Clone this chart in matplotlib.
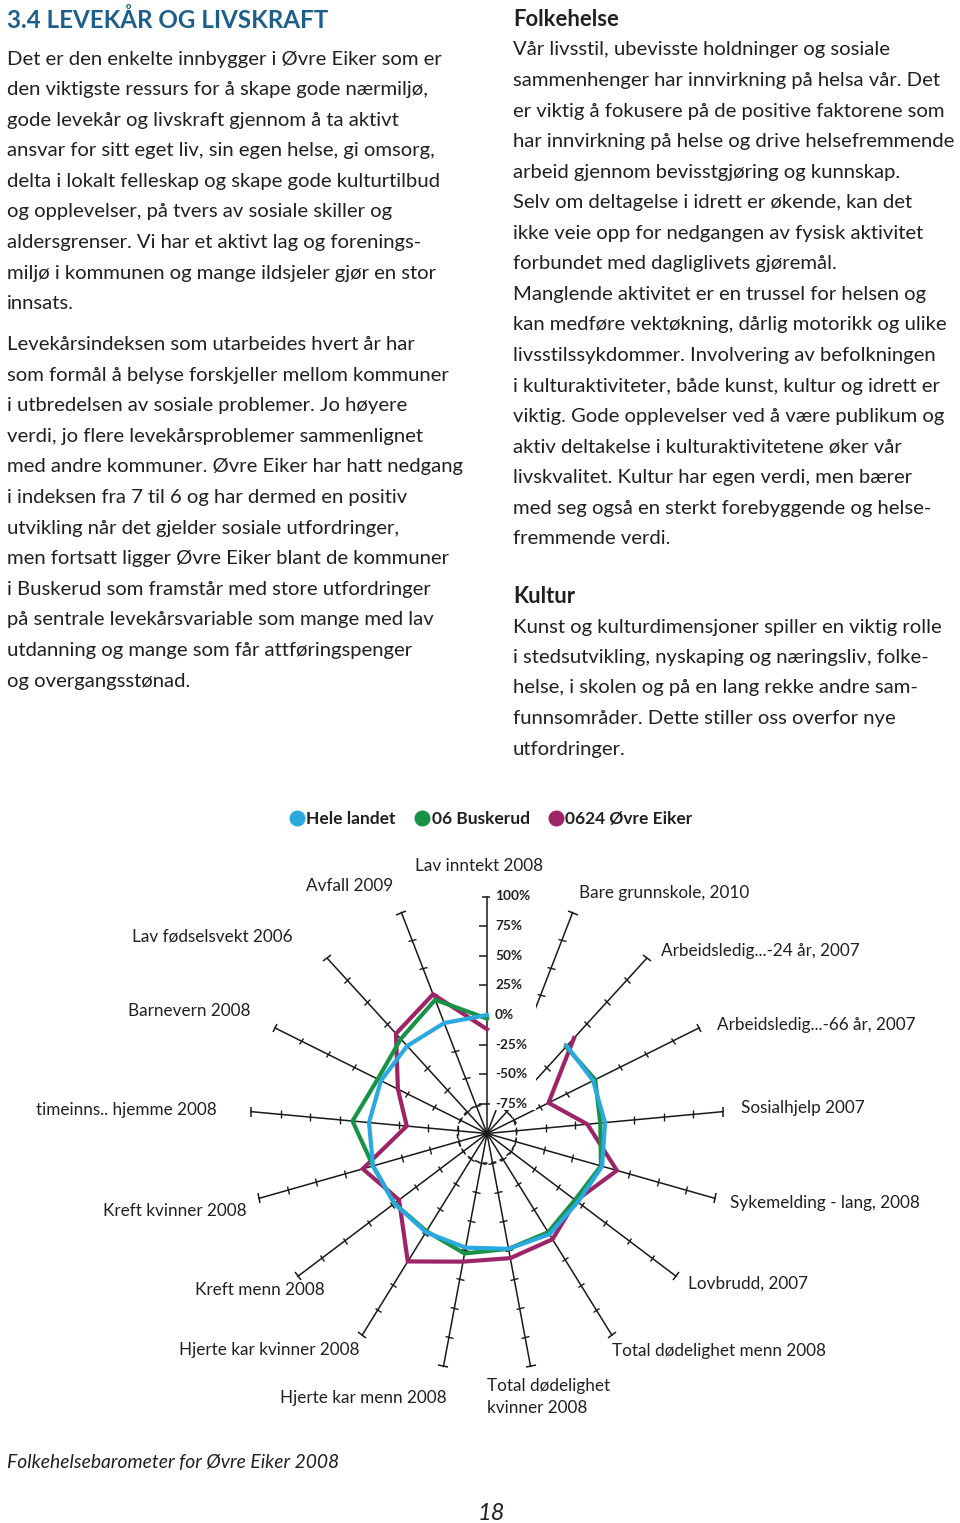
import numpy as np
import matplotlib.pyplot as plt
from matplotlib.markers import MarkerStyle
from matplotlib.transforms import Affine2D
from matplotlib.lines import Line2D
from matplotlib.patches import Rectangle
from matplotlib.path import Path

plt.rcParams['font.family'] = ['Lato', 'DejaVu Sans']

W, H = 960, 1523

# --- data -------------------------------------------------------------
categories = ['Lav inntekt 2008', 'Bare grunnskole, 2010', 'Arbeidsledig...-24 år, 2007',
              'Arbeidsledig...-66 år, 2007', 'Sosialhjelp 2007', 'Sykemelding - lang, 2008',
              'Lovbrudd, 2007', 'Total dødelighet menn 2008', 'Total dødelighet\nkvinner 2008',
              'Hjerte kar menn 2008', 'Hjerte kar kvinner 2008', 'Kreft menn 2008',
              'Kreft kvinner 2008', 'timeinns.. hjemme 2008', 'Barnevern 2008',
              'Lav fødselsvekt 2006', 'Avfall 2009']
hele_landet = [0, np.nan, 0, 0, 0, 1, -4, 0, -1, -2, -2, -2, 0, 0, 0, 0, 0]
buskerud = [-3, np.nan, -1, 2, -4, 0, -7, -2, -1, 3, -3, -2, 0, 14, 3, 8, 21]
ovre_eiker = [-12, np.nan, 9, -42, -15, 14, -6, 5, 7, 10, 27, -7, 9, -32, -16, 14, 26]
series_names = ['Hele landet', '06 Buskerud', '0624 Øvre Eiker']
scale_ticks = [100, 75, 50, 25, 0, -25, -50, -75]

colors = ['#2aa9e0', '#179247', '#9c2467']
txt = '#231f20'

# label placement on the page (pixels: left x, centre y)
label_pos = [(415, 866), (579, 893), (661, 951), (717, 1025), (741, 1108), (730, 1203),
             (688, 1284), (612, 1351), (487, 1397), (280, 1398), (179, 1350), (195, 1290),
             (103, 1211), (36, 1110), (128, 1011), (132, 936), (306, 886)]

left_col = [
    "Det er den enkelte innbygger i Øvre Eiker som er",
    "den viktigste ressurs for å skape gode nærmiljø,",
    "gode levekår og livskraft gjennom å ta aktivt",
    "ansvar for sitt eget liv, sin egen helse, gi omsorg,",
    "delta i lokalt felleskap og skape gode kulturtilbud",
    "og opplevelser, på tvers av sosiale skiller og",
    "aldersgrenser. Vi har et aktivt lag og forenings-",
    "miljø i kommunen og mange ildsjeler gjør en stor",
    "innsats.",
    None,
    "Levekårsindeksen som utarbeides hvert år har",
    "som formål å belyse forskjeller mellom kommuner",
    "i utbredelsen av sosiale problemer. Jo høyere",
    "verdi, jo flere levekårsproblemer sammenlignet",
    "med andre kommuner. Øvre Eiker har hatt nedgang",
    "i indeksen fra 7 til 6 og har dermed en positiv",
    "utvikling når det gjelder sosiale utfordringer,",
    "men fortsatt ligger Øvre Eiker blant de kommuner",
    "i Buskerud som framstår med store utfordringer",
    "på sentrale levekårsvariable som mange med lav",
    "utdanning og mange som får attføringspenger",
    "og overgangsstønad.",
]
right_col1 = [
    "Vår livsstil, ubevisste holdninger og sosiale",
    "sammenhenger har innvirkning på helsa vår. Det",
    "er viktig å fokusere på de positive faktorene som",
    "har innvirkning på helse og drive helsefremmende",
    "arbeid gjennom bevisstgjøring og kunnskap.",
    "Selv om deltagelse i idrett er økende, kan det",
    "ikke veie opp for nedgangen av fysisk aktivitet",
    "forbundet med dagliglivets gjøremål.",
    "Manglende aktivitet er en trussel for helsen og",
    "kan medføre vektøkning, dårlig motorikk og ulike",
    "livsstilssykdommer. Involvering av befolkningen",
    "i kulturaktiviteter, både kunst, kultur og idrett er",
    "viktig. Gode opplevelser ved å være publikum og",
    "aktiv deltakelse i kulturaktivitetene øker vår",
    "livskvalitet. Kultur har egen verdi, men bærer",
    "med seg også en sterkt forebyggende og helse-",
    "fremmende verdi.",
]
right_col2 = [
    "Kunst og kulturdimensjoner spiller en viktig rolle",
    "i stedsutvikling, nyskaping og næringsliv, folke-",
    "helse, i skolen og på en lang rekke andre sam-",
    "funnsområder. Dette stiller oss overfor nye",
    "utfordringer.",
]


def fx(x):
    return x / W


def fy(y):
    return 1 - y / H


fig = plt.figure(figsize=(W / 100, H / 100), dpi=100)
fig.patch.set_facecolor('white')

# --- page text ----------------------------------------------------------
body_fs = 14.6
fig.text(fx(7), fy(20), "3.4 LEVEKÅR OG LIVSKRAFT", fontsize=17.4, fontweight='bold',
         color='#1d5f8a', ha='left', va='center')
y = 59
for line in left_col:
    if line is None:
        y += 10
        continue
    fig.text(fx(7), fy(y), line, fontsize=body_fs, color=txt, ha='left', va='center')
    y += 30.6

fig.text(fx(513), fy(19), "Folkehelse", fontsize=15.8, fontweight='bold', color=txt,
         ha='left', va='center')
y = 50
for line in right_col1:
    fig.text(fx(513), fy(y), line, fontsize=body_fs, color=txt, ha='left', va='center')
    y += 30.55
fig.text(fx(513), fy(596), "Kultur", fontsize=15.8, fontweight='bold', color=txt,
         ha='left', va='center')
y = 627
for line in right_col2:
    fig.text(fx(513), fy(y), line, fontsize=body_fs, color=txt, ha='left', va='center')
    y += 30.5

fig.text(fx(7), fy(1463), "Folkehelsebarometer for Øvre Eiker 2008", fontsize=13.9,
         style='italic', color=txt, ha='left', va='center')
fig.text(fx(491), fy(1514), "18", fontsize=17, style='italic', color=txt,
         ha='center', va='center')

# --- radar --------------------------------------------------------------
R = 237
cx, cy = 487, 1133.5
ax = fig.add_axes([fx(cx - R), fy(cy + R), 2 * R / W, 2 * R / H], projection='polar')
ax.set_theta_zero_location('N')
ax.set_theta_direction(-1)
ax.set_ylim(-100, 100)
ax.grid(False)
ax.set_xticks([])
ax.set_yticks([])
ax.spines['polar'].set_visible(False)
ax.patch.set_alpha(0)

n = len(categories)
theta = np.arange(n) * 2 * np.pi / n

for i, t in enumerate(theta):
    deg = np.degrees(t)
    ax.plot([t, t], [-100, 100], color='#1a1a1a', lw=1.1, zorder=1, clip_on=False)
    if i == 0:
        mk = MarkerStyle(Path([(-1, 0), (0, 0)]))
        ax.plot([t] * 7, scale_ticks[1:], ls='none', marker=mk, ms=12,
                mec='#1a1a1a', mew=1.1, zorder=1, clip_on=False)
    else:
        mk = MarkerStyle('_', transform=Affine2D().rotate_deg(-deg))
        ax.plot([t] * 7, scale_ticks[1:], ls='none', marker=mk, ms=5.5,
                mec='#1a1a1a', mew=1.0, zorder=1, clip_on=False)
    cap = MarkerStyle('_', transform=Affine2D().rotate_deg(-deg))
    ax.plot([t], [100], ls='none', marker=cap, ms=7, mec='#1a1a1a', mew=1.1,
            zorder=1, clip_on=False)

ring = np.linspace(0, 2 * np.pi, 181)
ax.plot(ring, np.full_like(ring, -75), color='#1a1a1a', lw=1.1, ls=(0, (3, 2.5)), zorder=1)

# white panel behind the scale labels (hides the spokes there, as in the original)
ax.add_patch(Rectangle((fx(490), fy(1110)), 46 / W, 226 / H, transform=fig.transFigure,
                       fc='white', ec='none', zorder=2, clip_on=False))
for v in scale_ticks:
    ax.annotate(f'{v}%', xy=(0, v), xytext=(8, 0), textcoords='offset pixels',
                ha='left', va='center', fontsize=9.8, fontweight='bold', color=txt,
                zorder=3)

tc = np.append(theta, theta[0])
for vals, col, z in zip([ovre_eiker, buskerud, hele_landet], colors[::-1], [4, 5, 6]):
    vc = np.append(vals, vals[0])
    ax.plot(tc, vc, color=col, lw=3.0, solid_joinstyle='miter', zorder=z, clip_on=False)

for lab, (lx, ly) in zip(categories, label_pos):
    fig.text(fx(lx), fy(ly), lab, fontsize=12.3, color=txt, ha='left', va='center',
             linespacing=1.45)

handles = [Line2D([], [], ls='none', marker='o', ms=10.5, mfc=c, mec=c) for c in colors]
leg = fig.legend(handles, series_names, loc='center', bbox_to_anchor=(fx(492), fy(819)),
                 ncol=3, frameon=False, handlelength=0.6, handletextpad=0.25,
                 columnspacing=1.2, prop={'weight': 'bold', 'size': 12.5})
for t in leg.get_texts():
    t.set_color(txt)

fig.savefig('out.png', dpi=100, facecolor='white')
